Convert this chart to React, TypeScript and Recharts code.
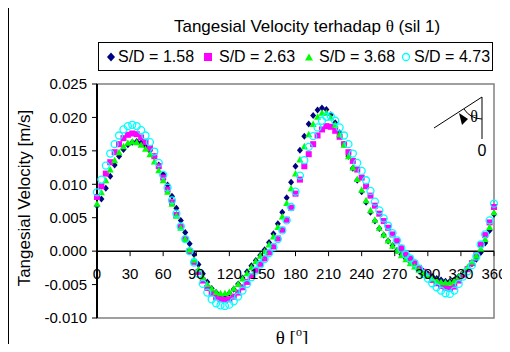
import { LineChart, Line, XAxis, YAxis, ReferenceLine, ReferenceArea } from 'recharts';

const THETA = [
  0, 4, 8, 12, 16, 20, 24, 28, 32, 36,
  40, 44, 48, 52, 56, 60, 64, 68, 72, 76,
  80, 84, 88, 92, 96, 100, 104, 108, 112, 116,
  120, 124, 128, 132, 136, 140, 144, 148, 152, 156,
  160, 164, 168, 172, 176, 180, 184, 188, 192, 196,
  200, 204, 208, 212, 216, 220, 224, 228, 232, 236,
  240, 244, 248, 252, 256, 260, 264, 268, 272, 276,
  280, 284, 288, 292, 296, 300, 304, 308, 312, 316,
  320, 324, 328, 332, 336, 340, 344, 348, 352, 356,
  360,
];

const SD_158 = [
  0.0068, 0.0078, 0.0094, 0.0112, 0.0129, 0.0142, 0.0152, 0.0159, 0.0163, 0.0164,
  0.0162, 0.0157, 0.0150, 0.0141, 0.0129, 0.0115, 0.0099, 0.0082, 0.0064, 0.0046,
  0.0028, 0.0011, -0.0005, -0.0020, -0.0034, -0.0046, -0.0056, -0.0062, -0.0066, -0.0066,
  -0.0063, -0.0057, -0.0049, -0.0040, -0.0031, -0.0022, -0.0014, -0.0006, 0.0002, 0.0013,
  0.0026, 0.0041, 0.0058, 0.0080, 0.0103, 0.0127, 0.0151, 0.0172, 0.0190, 0.0203,
  0.0211, 0.0214, 0.0212, 0.0204, 0.0192, 0.0177, 0.0160, 0.0142, 0.0124, 0.0106,
  0.0089, 0.0073, 0.0058, 0.0045, 0.0034, 0.0024, 0.0015, 0.0008, 0.0001, -0.0005,
  -0.0011, -0.0016, -0.0021, -0.0026, -0.0030, -0.0034, -0.0038, -0.0041, -0.0043, -0.0045,
  -0.0045, -0.0043, -0.0038, -0.0032, -0.0026, -0.0019, -0.0012, -0.0002, 0.0012, 0.0031,
  0.0055,
];

const SD_263 = [
  0.0081, 0.0097, 0.0116, 0.0133, 0.0148, 0.0160, 0.0169, 0.0174, 0.0176, 0.0175,
  0.0170, 0.0163, 0.0154, 0.0142, 0.0127, 0.0110, 0.0092, 0.0073, 0.0054, 0.0036,
  0.0018, 0.0000, -0.0016, -0.0031, -0.0044, -0.0055, -0.0063, -0.0069, -0.0072, -0.0073,
  -0.0072, -0.0068, -0.0062, -0.0054, -0.0046, -0.0037, -0.0028, -0.0019, -0.0011, -0.0002,
  0.0007, 0.0019, 0.0032, 0.0047, 0.0065, 0.0086, 0.0107, 0.0127, 0.0145, 0.0160,
  0.0173, 0.0182, 0.0187, 0.0186, 0.0180, 0.0171, 0.0160, 0.0148, 0.0135, 0.0122,
  0.0110, 0.0097, 0.0083, 0.0068, 0.0056, 0.0045, 0.0035, 0.0025, 0.0015, 0.0005,
  -0.0004, -0.0011, -0.0018, -0.0025, -0.0031, -0.0037, -0.0043, -0.0048, -0.0052, -0.0055,
  -0.0056, -0.0053, -0.0044, -0.0035, -0.0027, -0.0018, -0.0006, 0.0010, 0.0024, 0.0043,
  0.0066,
];

const SD_368 = [
  0.0071, 0.0088, 0.0106, 0.0122, 0.0136, 0.0148, 0.0157, 0.0162, 0.0164, 0.0163,
  0.0159, 0.0153, 0.0145, 0.0134, 0.0121, 0.0106, 0.0089, 0.0071, 0.0053, 0.0035,
  0.0018, 0.0002, -0.0013, -0.0027, -0.0039, -0.0049, -0.0056, -0.0061, -0.0063, -0.0063,
  -0.0061, -0.0056, -0.0049, -0.0041, -0.0033, -0.0024, -0.0015, -0.0007, 0.0000, 0.0010,
  0.0022, 0.0036, 0.0052, 0.0072, 0.0094, 0.0116, 0.0137, 0.0157, 0.0175, 0.0190,
  0.0201, 0.0207, 0.0207, 0.0200, 0.0189, 0.0175, 0.0159, 0.0142, 0.0125, 0.0108,
  0.0092, 0.0076, 0.0061, 0.0047, 0.0035, 0.0025, 0.0016, 0.0008, 0.0001, -0.0006,
  -0.0012, -0.0018, -0.0023, -0.0028, -0.0033, -0.0037, -0.0041, -0.0044, -0.0046, -0.0047,
  -0.0047, -0.0044, -0.0038, -0.0031, -0.0024, -0.0016, -0.0007, 0.0004, 0.0018, 0.0036,
  0.0058,
];

const SD_473 = [
  0.0088, 0.0107, 0.0128, 0.0146, 0.0160, 0.0173, 0.0182, 0.0187, 0.0189, 0.0187,
  0.0181, 0.0173, 0.0163, 0.0149, 0.0132, 0.0114, 0.0095, 0.0076, 0.0056, 0.0037,
  0.0018, 0.0000, -0.0017, -0.0034, -0.0049, -0.0062, -0.0072, -0.0078, -0.0081, -0.0082,
  -0.0080, -0.0075, -0.0068, -0.0059, -0.0049, -0.0039, -0.0029, -0.0020, -0.0012, -0.0003,
  0.0006, 0.0018, 0.0031, 0.0046, 0.0066, 0.0089, 0.0113, 0.0136, 0.0156, 0.0172,
  0.0185, 0.0195, 0.0201, 0.0202, 0.0195, 0.0185, 0.0173, 0.0160, 0.0146, 0.0132,
  0.0120, 0.0106, 0.0090, 0.0074, 0.0061, 0.0049, 0.0038, 0.0027, 0.0016, 0.0004,
  -0.0005, -0.0011, -0.0018, -0.0026, -0.0034, -0.0041, -0.0048, -0.0054, -0.0059, -0.0063,
  -0.0064, -0.0059, -0.0049, -0.0038, -0.0030, -0.0021, -0.0008, 0.0010, 0.0025, 0.0046,
  0.0071,
];

const X_TICKS = [0, 30, 60, 90, 120, 150, 180, 210, 240, 270, 300, 330, 360];
const Y_TICKS = [-0.01, -0.005, 0, 0.005, 0.01, 0.015, 0.02, 0.025];
const Y_MIN = -0.01;
const Y_MAX = 0.025;

const LEGEND = ['S/D = 1.58', 'S/D = 2.63', 'S/D = 3.68', 'S/D = 4.73'];

const data = THETA.map((t, i) => ({
  theta: t,
  a: SD_158[i],
  b: SD_263[i],
  c: SD_368[i],
  d: SD_473[i],
}));

const FONT = "'Liberation Sans', Arial, sans-serif";
const SERIF = "'Liberation Serif', 'Times New Roman', serif";

// plot box (chart coords)
const PLOT_TOP = 84;
const PLOT_BOTTOM = 318;
const ZERO_Y = PLOT_BOTTOM - ((0 - Y_MIN) / (Y_MAX - Y_MIN)) * (PLOT_BOTTOM - PLOT_TOP);

function Diamond({ cx, cy }: any) {
  if (cx == null || cy == null) return null;
  return <polygon points={`${cx},${cy - 3.5} ${cx + 3},${cy} ${cx},${cy + 3.5} ${cx - 3},${cy}`} fill="#000080" />;
}

function Square({ cx, cy }: any) {
  if (cx == null || cy == null) return null;
  return <rect x={cx - 3} y={cy - 3} width={6} height={6} fill="#FF00FF" />;
}

function Triangle({ cx, cy }: any) {
  if (cx == null || cy == null) return null;
  return <polygon points={`${cx},${cy - 3.5} ${cx + 3.5},${cy + 3} ${cx - 3.5},${cy + 3}`} fill="#00FF00" />;
}

function Circle({ cx, cy }: any) {
  if (cx == null || cy == null) return null;
  return <circle cx={cx} cy={cy} r={3.5} fill="none" stroke="#00FFFF" strokeWidth={1.3} />;
}

function XTick({ x, payload }: any) {
  return (
    <g>
      <line x1={x} x2={x} y1={ZERO_Y} y2={ZERO_Y + 5} stroke="#000" />
      <text x={x} y={ZERO_Y + 28} textAnchor="middle" fontSize={15} fontFamily={FONT} fill="#000">
        {payload.value}
      </text>
    </g>
  );
}

function LegendIcon({ i }: { i: number }) {
  return (
    <svg width={10} height={10} style={{ display: 'block' }}>
      {i === 0 && <polygon points="5,0.5 9,5 5,9.5 1,5" fill="#000080" />}
      {i === 1 && <rect x={1} y={1} width={8} height={8} fill="#FF00FF" />}
      {i === 2 && <polygon points="5,1.5 9,8.5 1,8.5" fill="#00FF00" />}
      {i === 3 && <circle cx={5} cy={5} r={3.5} fill="none" stroke="#00FFFF" strokeWidth={1.3} />}
    </svg>
  );
}

const LEGEND_POS = [
  { icon: 110, text: 117 },
  { icon: 207, text: 218 },
  { icon: 308, text: 318 },
  { icon: 405, text: 413 },
];

export default function App() {
  return (
    <div
      style={{
        position: 'relative',
        width: 510,
        height: 352,
        margin: -8,
        overflow: 'hidden',
        background: '#fff',
        fontFamily: FONT,
      }}
    >
      <div
        style={{
          position: 'absolute',
          left: 7,
          top: 5,
          width: 540,
          height: 380,
          borderLeft: '2px solid #000',
          borderTop: '2px solid #000',
        }}
      />
      <div style={{ position: 'absolute', left: 0, top: 0 }}>
        <LineChart width={510} height={352} data={data} margin={{ top: PLOT_TOP, right: 16, bottom: 4, left: 0 }}>
          <ReferenceArea x1={0} x2={360} y1={Y_MIN} y2={Y_MAX} fill="none" stroke="#808080" strokeWidth={1.5} />
          <XAxis
            dataKey="theta"
            type="number"
            domain={[0, 360]}
            ticks={X_TICKS}
            interval={0}
            axisLine={false}
            tickLine={false}
            height={30}
            tick={<XTick />}
          />
          <YAxis
            type="number"
            domain={[Y_MIN, Y_MAX]}
            ticks={Y_TICKS}
            width={97}
            tickFormatter={(v: number) => v.toFixed(3)}
            tick={{ fontSize: 15, fill: '#000', fontFamily: FONT }}
            tickSize={5}
            tickMargin={5}
            axisLine={{ stroke: '#000', strokeWidth: 2 }}
            tickLine={{ stroke: '#000' }}
          />
          <ReferenceLine y={0} stroke="#000" strokeWidth={1.5} />
          <Line dataKey="a" stroke="none" dot={<Diamond />} activeDot={false} isAnimationActive={false} />
          <Line dataKey="b" stroke="none" dot={<Square />} activeDot={false} isAnimationActive={false} />
          <Line dataKey="c" stroke="none" dot={<Triangle />} activeDot={false} isAnimationActive={false} />
          <Line dataKey="d" stroke="none" dot={<Circle />} activeDot={false} isAnimationActive={false} />
        </LineChart>
      </div>
      <svg width={510} height={352} style={{ position: 'absolute', left: 0, top: 0, pointerEvents: 'none' }}>
        <text x={307} y={32} textAnchor="middle" fontSize={17} fontFamily={FONT} fill="#000">
          Tangesial Velocity terhadap <tspan fontFamily={SERIF}>θ</tspan> (sil 1)
        </text>
        <text
          x={0}
          y={0}
          transform="translate(30,198) rotate(-90)"
          textAnchor="middle"
          fontSize={17}
          fontFamily={FONT}
          fill="#000"
        >
          Tangesial Velocity [m/s]
        </text>
        <text x={292} y={344} textAnchor="middle" fontSize={19} fontFamily={SERIF} fill="#000">
          θ [<tspan fontSize={12} dy={-8}>o</tspan>
          <tspan dy={8}>]</tspan>
        </text>
        {/* angle sketch */}
        <line x1={434} y1={128} x2={482} y2={97} stroke="#000" strokeWidth={1} />
        <line x1={482} y1={97} x2={482} y2={139} stroke="#000" strokeWidth={1} />
        <path d="M 482 119 A 22 22 0 0 1 464 109" fill="none" stroke="#000" strokeWidth={1} />
        <polygon points="459,113 468,119 462,125" fill="#000" />
        <text x={474} y={122} textAnchor="middle" fontSize={16} fontFamily={SERIF} fill="#000">
          θ
        </text>
        <text x={482} y={156} textAnchor="middle" fontSize={16} fontFamily={FONT} fill="#000">
          0
        </text>
      </svg>
      <div
        style={{
          position: 'absolute',
          left: 98,
          top: 42,
          width: 395,
          height: 29,
          border: '1px solid #000',
          boxSizing: 'border-box',
          background: '#fff',
        }}
      >
        {LEGEND.map((label, i) => (
          <div key={label}>
            <div style={{ position: 'absolute', left: LEGEND_POS[i].icon - 98 - 5, top: 9 }}>
              <LegendIcon i={i} />
            </div>
            <div
              style={{
                position: 'absolute',
                left: LEGEND_POS[i].text - 98,
                top: 4,
                fontSize: 16,
                lineHeight: '19px',
                whiteSpace: 'nowrap',
                color: '#000',
              }}
            >
              {label}
            </div>
          </div>
        ))}
      </div>
    </div>
  );
}
